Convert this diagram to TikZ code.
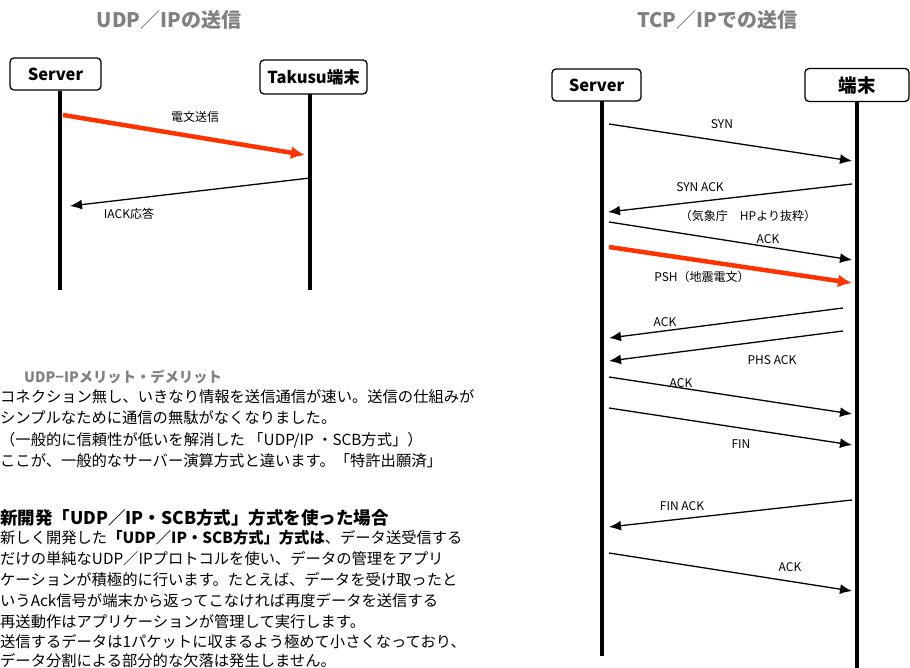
\documentclass[tikz,border=0pt]{standalone}
\usepackage{fontspec}
\setmainfont{Noto Sans CJK JP}
\usetikzlibrary{arrows.meta}
\definecolor{arrowred}{RGB}{255,51,0}
\definecolor{titlegray}{RGB}{128,128,128}
\tikzset{
  actor/.style={draw, line width=1.3pt, rounded corners=4pt, inner sep=0,
    font=\fontsize{16.5}{18}\selectfont\bfseries},
  lifeline/.style={line width=4pt},
  msg/.style={line width=1.3pt, -{Latex[length=12pt,width=10pt]}},
  redmsg/.style={line width=4.5pt, draw=arrowred, -{Latex[length=14pt,width=13pt]}},
  lbl/.style={inner sep=0, font=\fontsize{12}{14}\selectfont},
  ttl/.style={inner sep=0, text=titlegray, font=\fontsize{20}{22}\selectfont\bfseries},
  body/.style={anchor=west, inner sep=0, font=\fontsize{15.3}{17}\selectfont},
  heading/.style={anchor=west, inner sep=0, font=\fontsize{17.5}{19}\selectfont\bfseries},
}
\begin{document}
\begin{tikzpicture}[x=1pt, y=-1pt]
\useasboundingbox (0,0) rectangle (910,668);

% ---------------- UDP/IP ----------------
\node[ttl] (t1) at (169,20) {UDP／IPの送信};
\node[actor, minimum width=91pt, minimum height=32pt] (srv1) at (55.5,74) {Server};
\node[actor, minimum width=107pt, minimum height=34pt] (trm1) at (313.5,77) {Takusu端末};
\coordinate (s1top) at (60,91);
\coordinate (s1bot) at (60,290);
\coordinate (t1top) at (310,94);
\coordinate (t1bot) at (310,290);
\draw[lifeline] (s1top) -- (s1bot);
\draw[lifeline] (t1top) -- (t1bot);

\coordinate (u1a) at (63,115);
\coordinate (u1b) at (305,155);
\draw[redmsg] (u1a) -- (u1b);
\node[lbl] (u1l) at (195,117) {電文送信};

\coordinate (u2a) at (310,178);
\coordinate (u2b) at (70,206);
\draw[msg] (u2a) -- (u2b);
\node[lbl] (u2l) at (129,214) {IACK応答};

% ---------------- text ----------------
\node[anchor=west, inner sep=0, text=titlegray, font=\fontsize{14.3}{16}\selectfont\bfseries] (sub) at (24,377) {UDP−IPメリット・デメリット};
\node[body] (b1) at (0,397) {コネクション無し、いきなり情報を送信通信が速い。送信の仕組みが};
\node[body] (b2) at (0,418) {シンプルなために通信の無駄がなくなりました。};
\node[body] (b3) at (0,440) {（一般的に信頼性が低いを解消した 「UDP/IP ・SCB方式」）};
\node[body] (b4) at (0,461) {ここが、一般的なサーバー演算方式と違います。「特許出願済」};

\node[heading] (h2) at (0,518) {新開発「UDP／IP・SCB方式」方式を使った場合};
\node[body] (c1) at (0,538) {新しく開発した\textbf{「UDP／IP・SCB方式」方式は}、データ送受信する};
\node[body] (c2) at (0,559) {だけの単純なUDP／IPプロトコルを使い、データの管理をアプリ};
\node[body] (c3) at (0,580) {ケーションが積極的に行います。たとえば、データを受け取ったと};
\node[body] (c4) at (0,601) {いうAck信号が端末から返ってこなければ再度データを送信する};
\node[body] (c5) at (0,622) {再送動作はアプリケーションが管理して実行します。};
\node[body] (c6) at (0,642) {送信するデータは1パケットに収まるよう極めて小さくなっており、};
\node[body] (c7) at (0,661) {データ分割による部分的な欠落は発生しません。};

% ---------------- TCP/IP ----------------
\node[ttl] (t2) at (717,20) {TCP／IPでの送信};
\node[actor, minimum width=89pt, minimum height=32pt] (srv2) at (596.5,85) {Server};
\node[actor, minimum width=104pt, minimum height=33pt, font=\fontsize{18.5}{20}\selectfont\bfseries] (trm2) at (857,85) {端末};
\coordinate (s2top) at (602,101);
\coordinate (s2bot) at (602,656);
\coordinate (t2top) at (857,101);
\coordinate (t2bot) at (857,668);
\draw[lifeline] (s2top) -- (s2bot);
\draw[lifeline] (t2top) -- (t2bot);

\coordinate (m1a) at (609,124);  \coordinate (m1b) at (852,161);
\draw[msg] (m1a) -- (m1b);
\node[lbl] (m1l) at (722,124) {SYN};

\coordinate (m2a) at (852,184);  \coordinate (m2b) at (608,212);
\draw[msg] (m2a) -- (m2b);
\node[lbl] (m2l) at (700,187) {SYN ACK};
\node[lbl] (src) at (748,216) {（気象庁　HPより抜粋）};

\coordinate (m3a) at (609,222);  \coordinate (m3b) at (852,260);
\draw[msg] (m3a) -- (m3b);
\node[lbl] (m3l) at (768,239) {ACK};

\coordinate (m4a) at (609,247);  \coordinate (m4b) at (852,283);
\draw[redmsg] (m4a) -- (m4b);
\node[lbl] (m4l) at (702,277) {PSH（地震電文）};

\coordinate (m5a) at (843,308);  \coordinate (m5b) at (609,338);
\draw[msg] (m5a) -- (m5b);
\node[lbl] (m5l) at (665,322) {ACK};

\coordinate (m6a) at (843,331);  \coordinate (m6b) at (609,361);
\draw[msg] (m6a) -- (m6b);
\node[lbl] (m6l) at (772,360) {PHS ACK};

\coordinate (m7a) at (609,377);  \coordinate (m7b) at (852,414);
\draw[msg] (m7a) -- (m7b);
\node[lbl] (m7l) at (681,383) {ACK};

\coordinate (m8a) at (609,408);  \coordinate (m8b) at (852,445);
\draw[msg] (m8a) -- (m8b);
\node[lbl] (m8l) at (741,444) {FIN};

\coordinate (m9a) at (852,500);  \coordinate (m9b) at (609,527);
\draw[msg] (m9a) -- (m9b);
\node[lbl] (m9l) at (682,506) {FIN ACK};

\coordinate (m10a) at (609,553); \coordinate (m10b) at (852,591);
\draw[msg] (m10a) -- (m10b);
\node[lbl] (m10l) at (790,567) {ACK};
\end{tikzpicture}
\end{document}
